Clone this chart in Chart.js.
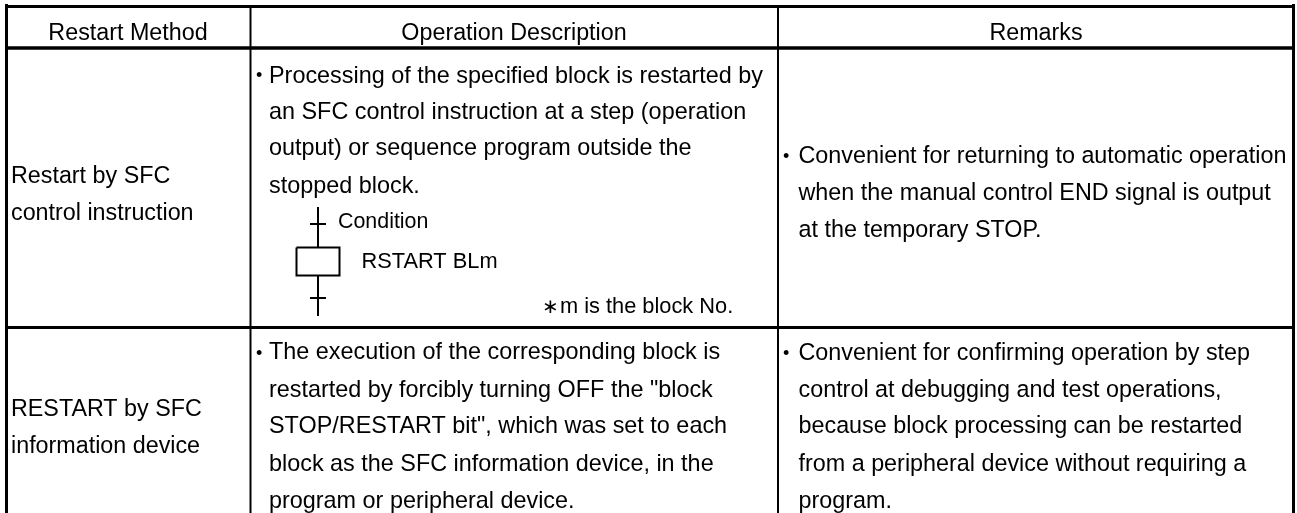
<!DOCTYPE html>
<html><head><meta charset="utf-8">
<style>html,body{margin:0;padding:0;background:#fff}#w{width:1297px;height:513px;position:relative}canvas{display:block}</style>
<script src="https://cdn.jsdelivr.net/npm/chart.js@4"></script>
</head><body><div id="w"><canvas id="c" width="1297" height="513"></canvas></div>
<script>
// table structure, in reference units
const borderRules = [[[6.5,4],[6.5,513]], [[5,6.5],[1295,6.5]], [[1293.5,4],[1293.5,513]], [[5,327.5],[1295,327.5]]];
const headerRule = [[5,48],[1295,48]];
const columnRules = [[[250.5,6],[250.5,513]], [[778,6],[778,513]]];
const ladderLines = [[[318,207],[318,247]], [[310,224],[326,224]], [[296.5,247.5],[339.5,247.5],[339.5,275.5],[296.5,275.5],[296.5,247.5]], [[318,276],[318,316]], [[310,298],[326,298]]];
// texts: [string, x, baseline, align]
const headerTexts = [["Restart Method",128,40,"center"],["Operation Description",514,40,"center"],["Remarks",1036,40,"center"]];
const methodTexts = [["Restart by SFC",11,183],["control instruction",11,220],["RESTART by SFC",11,416],["information device",11,453]];
const bullets = [["•",256,81],["•",256,359],["•",783,162],["•",783,359]];
const descriptionTexts = [
 ["Processing of the specified block is restarted by",269,83],
 ["an SFC control instruction at a step (operation",269,119],
 ["output) or sequence program outside the",269,155],
 ["stopped block.",269,193],
 ["The execution of the corresponding block is",269,359],
 ["restarted by forcibly turning OFF the \"block",269,397],
 ["STOP/RESTART bit\", which was set to each",269,433],
 ["block as the SFC information device, in the",269,471],
 ["program or peripheral device.",269,508]];
const conditionText = [["Condition",338,228]];
const ladderTexts = [["RSTART BLm",361.5,268],["m is the block No.",560,313]];
const asterisk = [["∗",542,313]];
const remarkTexts = [
 ["Convenient for returning to automatic operation",798.5,163],
 ["when the manual control END signal is output",798.5,200],
 ["at the temporary STOP.",798.5,237],
 ["Convenient for confirming operation by step",798.5,360],
 ["control at debugging and test operations,",798.5,397],
 ["because block processing can be restarted",798.5,433],
 ["from a peripheral device without requiring a",798.5,471],
 ["program.",798.5,508]];

const toPts = l => l.map(p => ({x:p[0],y:p[1]}));
const mk = (l,w) => ({data:toPts(l),borderColor:'#000',borderWidth:w,pointRadius:0,showLine:true,fill:false,tension:0,borderCapStyle:'butt',borderJoinStyle:'miter'});
const FONT = '"Liberation Sans", Arial, sans-serif';
const textPlugin = { id:'tableText', afterDatasetsDraw(chart){
  const {ctx,scales:{x,y}} = chart;
  const put = (arr,size) => arr.forEach(t=>{
    ctx.font = size+'px '+FONT; ctx.fillStyle='#000'; ctx.textBaseline='alphabetic';
    ctx.textAlign = t[3]||'left';
    ctx.fillText(t[0],x.getPixelForValue(t[1]),y.getPixelForValue(t[2]));
  });
  ctx.save();
  put(headerTexts,23.3); put(methodTexts,23.3); put(bullets,18); put(descriptionTexts,23.4); put(remarkTexts,23.35);
  put(conditionText,21.4); put(ladderTexts,21.8); put(asterisk,20);
  ctx.restore();
}};
new Chart(document.getElementById('c'),{
  type:'scatter',
  data:{datasets:[...borderRules.map(l=>mk(l,3)),mk(headerRule,3.5),...columnRules.map(l=>mk(l,2)),...ladderLines.map(l=>mk(l,2))]},
  options:{responsive:false,animation:false,events:[],layout:{padding:0},
    plugins:{legend:{display:false},tooltip:{enabled:false}},
    scales:{x:{type:'linear',min:0,max:1297,display:false},y:{type:'linear',min:0,max:513,reverse:true,display:false}}},
  plugins:[textPlugin]
});
</script></body></html>
